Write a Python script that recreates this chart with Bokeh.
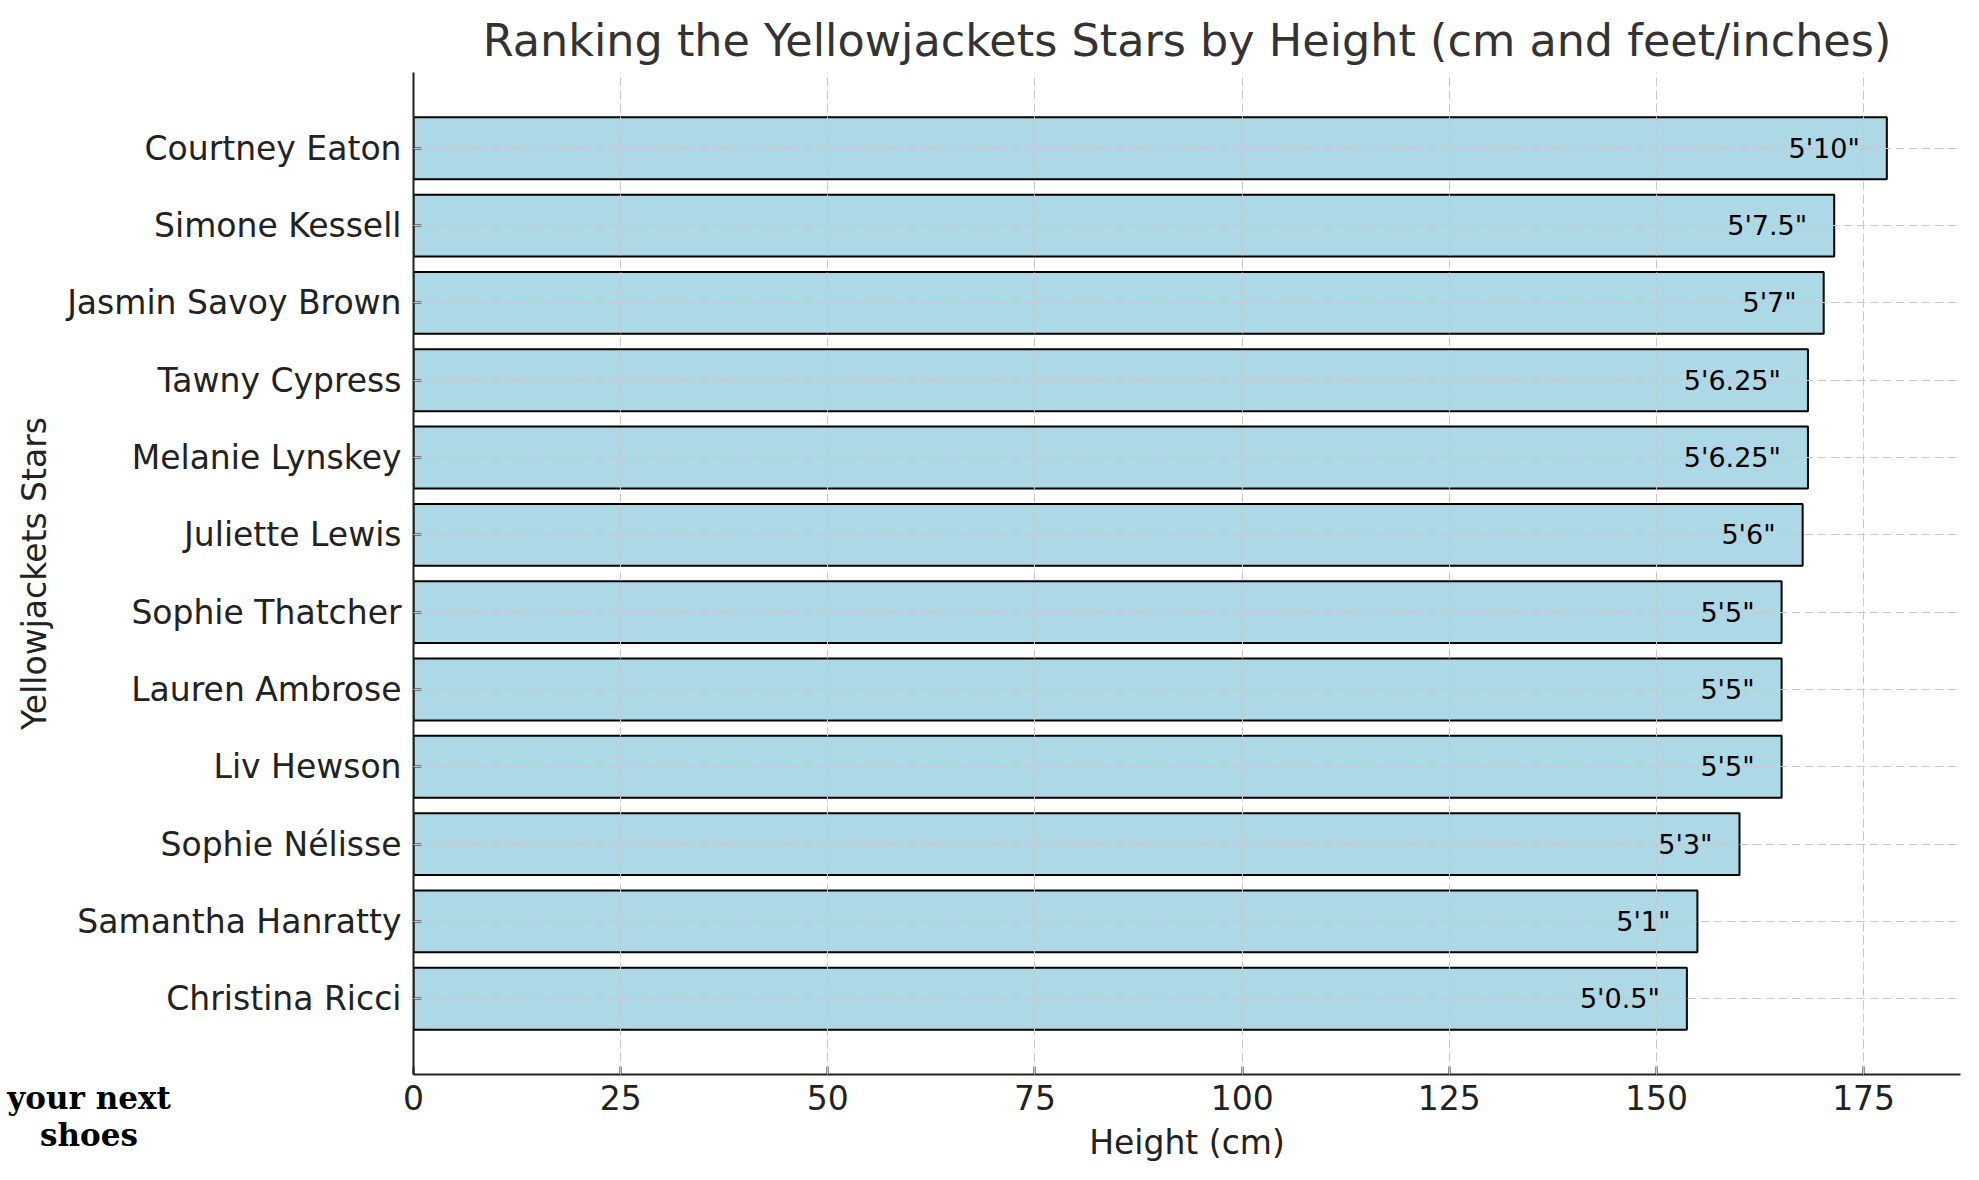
from bokeh.plotting import figure
from bokeh.layouts import column
from bokeh.models import Range1d, FactorRange, FixedTicker, ColumnDataSource, LabelSet, Div
from bokeh.core.properties import value
from bokeh.embed import file_html
from bokeh.resources import INLINE

names = ["Courtney Eaton", "Simone Kessell", "Jasmin Savoy Brown", "Tawny Cypress",
         "Melanie Lynskey", "Juliette Lewis", "Sophie Thatcher", "Lauren Ambrose",
         "Liv Hewson", "Sophie Nélisse", "Samantha Hanratty", "Christina Ricci"]
heights_cm = [177.8, 171.45, 170.18, 168.28, 168.28, 167.64, 165.1, 165.1, 165.1,
              160.02, 154.94, 153.67]
heights_ft = ["5'10\"", "5'7.5\"", "5'7\"", "5'6.25\"", "5'6.25\"", "5'6\"", "5'5\"",
              "5'5\"", "5'5\"", "5'3\"", "5'1\"", "5'0.5\""]
x_ticks = [0, 25, 50, 75, 100, 125, 150, 175]
watermark_lines = ["your next", "shoes"]

FONT = "DejaVu Sans"

src = ColumnDataSource(dict(name=names, cm=heights_cm, ft=heights_ft))

p = figure(width=1971, height=1172, output_backend="svg", toolbar_location=None,
           x_range=Range1d(0, max(heights_cm) * 1.05),
           y_range=FactorRange(factors=names[::-1], range_padding=0.48,
                               range_padding_units="absolute"),
           min_border_left=413, min_border_right=11, min_border_top=72,
           min_border_bottom=98)

p.hbar(y="name", right="cm", left=0, height=0.8, source=src,
       fill_color="#ADD8E6", line_color="black", line_width=2)

labels = LabelSet(x="cm", y="name", text="ft", source=src, x_offset=-27,
                  text_align="right", text_baseline="middle",
                  text_font=value(FONT), text_font_size="27px", text_color="black")
p.add_layout(labels)

p.title.text = "Ranking the Yellowjackets Stars by Height (cm and feet/inches)"
p.title.align = "center"
p.title.text_font = FONT
p.title.text_font_size = "44.5px"
p.title.text_font_style = "normal"
p.title.text_color = "#333333"
p.title.standoff = 14

p.outline_line_color = None
p.background_fill_color = "white"

for ax in (p.xaxis, p.yaxis):
    ax.axis_line_width = 2
    ax.axis_line_color = "#222222"
    ax.major_tick_line_color = "#222222"
    ax.major_tick_line_width = 2
    ax.major_tick_in = 8
    ax.major_tick_out = 0
    ax.minor_tick_line_color = None
    ax.major_label_text_font = FONT
    ax.major_label_text_font_size = "33px"
    ax.major_label_text_color = "#222222"
    ax.axis_label_text_font = FONT
    ax.axis_label_text_font_size = "33px"
    ax.axis_label_text_font_style = "normal"
    ax.axis_label_text_color = "#222222"

p.xaxis.ticker = FixedTicker(ticks=x_ticks)
p.xaxis.axis_label = "Height (cm)"
p.xaxis.major_label_standoff = 10
p.xaxis.axis_label_standoff = 10
p.yaxis.axis_label = "Yellowjackets Stars"
p.yaxis.major_label_standoff = 12
p.yaxis.axis_label_standoff = 10

for g in (p.xgrid, p.ygrid):
    g.grid_line_color = "#c8c8c8"
    g.grid_line_dash = "9 4"
    g.grid_line_width = 1
    g.level = "guide"

# watermark text, pulled up over the empty bottom-left corner of the chart
wm = Div(text="<br>".join(watermark_lines), width=178, height=74,
         margin=(-92, 0, 0, 0),
         styles={"font-family": "DejaVu Serif", "font-weight": "bold",
                 "font-size": "31px", "line-height": "37px",
                 "text-align": "center", "color": "black",
                 "position": "relative", "z-index": "10"})

layout = column(p, wm)
open("out.html", "w").write(file_html(layout, INLINE))
